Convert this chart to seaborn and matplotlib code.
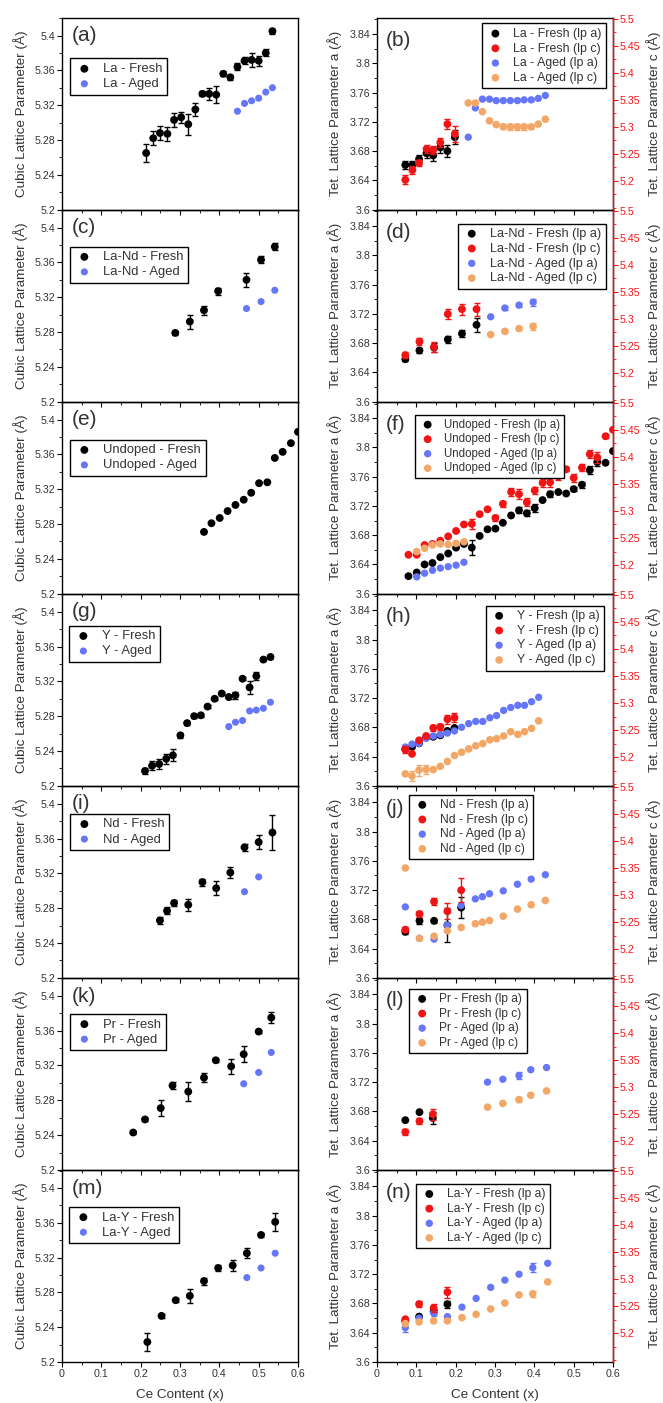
import numpy as np
import matplotlib
matplotlib.use("Agg")
import matplotlib.pyplot as plt
import seaborn as sns
from matplotlib.ticker import MultipleLocator, FixedLocator, FuncFormatter

# ---------------- DATA ----------------
# Left column: cubic lattice parameter vs Ce content
a_fx = [0.214, 0.232, 0.249, 0.268, 0.285, 0.303, 0.321, 0.339, 0.357, 0.374, 0.392, 0.410, 0.428, 0.446, 0.464, 0.482, 0.500, 0.518, 0.535]
a_fy = [5.265, 5.282, 5.288, 5.287, 5.303, 5.306, 5.298, 5.315, 5.333, 5.333, 5.332, 5.356, 5.352, 5.364, 5.371, 5.372, 5.371, 5.380, 5.405]
a_fe = [0.010, 0.008, 0.008, 0.008, 0.008, 0.006, 0.012, 0.008, 0.003, 0.007, 0.010, 0.003, 0.003, 0.004, 0.004, 0.008, 0.006, 0.004, 0.003]
a_ax = [0.446, 0.464, 0.482, 0.500, 0.518, 0.535]
a_ay = [5.313, 5.322, 5.325, 5.328, 5.335, 5.340]

c_fx = [0.288, 0.325, 0.361, 0.397, 0.469, 0.506, 0.541]
c_fy = [5.279, 5.292, 5.305, 5.327, 5.340, 5.363, 5.378]
c_fe = [0.002, 0.008, 0.005, 0.004, 0.008, 0.004, 0.004]
c_ax = [0.469, 0.506, 0.541]
c_ay = [5.307, 5.315, 5.328]

e_fx = [0.361, 0.380, 0.401, 0.421, 0.441, 0.462, 0.481, 0.501, 0.522, 0.541, 0.561, 0.582, 0.600]
e_fy = [5.271, 5.281, 5.287, 5.295, 5.302, 5.308, 5.316, 5.327, 5.328, 5.356, 5.363, 5.373, 5.386]
e_fe = [0, 0, 0, 0, 0, 0, 0, 0, 0, 0, 0, 0, 0]
e_ax = []
e_ay = []

g_fx = [0.211, 0.229, 0.247, 0.265, 0.282, 0.301, 0.318, 0.336, 0.353, 0.370, 0.388, 0.406, 0.424, 0.441, 0.459, 0.477, 0.494, 0.512, 0.530]
g_fy = [5.217, 5.223, 5.225, 5.231, 5.235, 5.258, 5.272, 5.280, 5.281, 5.291, 5.300, 5.306, 5.302, 5.304, 5.323, 5.313, 5.326, 5.345, 5.348]
g_fe = [0.004, 0.005, 0.006, 0.006, 0.007, 0.003, 0.002, 0.002, 0.002, 0.002, 0.002, 0.002, 0.002, 0.004, 0.002, 0.007, 0.005, 0.002, 0.002]
g_ax = [0.424, 0.441, 0.459, 0.477, 0.494, 0.512, 0.530]
g_ay = [5.268, 5.273, 5.275, 5.286, 5.287, 5.289, 5.296]

i_fx = [0.249, 0.267, 0.285, 0.321, 0.357, 0.392, 0.428, 0.464, 0.500, 0.535]
i_fy = [5.266, 5.277, 5.286, 5.284, 5.310, 5.303, 5.321, 5.350, 5.356, 5.367]
i_fe = [0.004, 0.004, 0.003, 0.007, 0.004, 0.008, 0.006, 0.004, 0.008, 0.020]
i_ax = [0.464, 0.500]
i_ay = [5.299, 5.316]

k_fx = [0.181, 0.211, 0.251, 0.281, 0.321, 0.361, 0.391, 0.430, 0.462, 0.500, 0.532]
k_fy = [5.243, 5.258, 5.271, 5.297, 5.290, 5.306, 5.326, 5.319, 5.333, 5.359, 5.375]
k_fe = [0.002, 0.002, 0.009, 0.004, 0.011, 0.005, 0.002, 0.009, 0.009, 0.002, 0.006]
k_ax = [0.462, 0.500, 0.532]
k_ay = [5.299, 5.312, 5.335]

m_fx = [0.217, 0.253, 0.289, 0.325, 0.361, 0.397, 0.434, 0.470, 0.506, 0.542]
m_fy = [5.223, 5.253, 5.271, 5.276, 5.293, 5.308, 5.311, 5.325, 5.346, 5.361]
m_fe = [0.010, 0.002, 0.002, 0.008, 0.004, 0.004, 0.006, 0.006, 0.002, 0.010]
m_ax = [0.470, 0.506, 0.542]
m_ay = [5.297, 5.308, 5.325]

# Right column: tetragonal lattice parameters a (left axis) and c (right axis)
b_fx = [0.072, 0.090, 0.107, 0.126, 0.143, 0.161, 0.179, 0.198]
b_fa = [3.661, 3.661, 3.669, 3.677, 3.674, 3.685, 3.680, 3.699]
b_fa_e = [0.006, 0.006, 0.006, 0.006, 0.008, 0.008, 0.008, 0.010]
b_fc = [5.202, 5.220, 5.233, 5.259, 5.257, 5.271, 5.305, 5.287]
b_fc_e = [0.008, 0.008, 0.006, 0.008, 0.008, 0.008, 0.010, 0.015]
b_ax = [0.232, 0.250, 0.268, 0.286, 0.303, 0.321, 0.339, 0.357, 0.374, 0.392, 0.410, 0.428]
b_aa = [3.699, 3.739, 3.751, 3.751, 3.749, 3.749, 3.749, 3.749, 3.750, 3.750, 3.752, 3.756]
b_aa_e = [0, 0, 0, 0, 0, 0, 0, 0, 0, 0.002, 0, 0]
b_ac = [5.344, 5.344, 5.328, 5.311, 5.304, 5.300, 5.300, 5.300, 5.300, 5.300, 5.305, 5.314]
b_ac_e = [0, 0, 0, 0, 0, 0.005, 0.006, 0.006, 0.006, 0.004, 0, 0]

d_fx = [0.072, 0.108, 0.145, 0.180, 0.216, 0.253]
d_fa = [3.658, 3.670, 3.674, 3.685, 3.693, 3.705]
d_fa_e = [0.003, 0.004, 0.006, 0.005, 0.005, 0.010]
d_fc = [5.233, 5.258, 5.248, 5.309, 5.318, 5.318]
d_fc_e = [0.005, 0.006, 0.010, 0.010, 0.010, 0.012]
d_ax = [0.289, 0.325, 0.361, 0.397]
d_aa = [3.716, 3.728, 3.732, 3.736]
d_aa_e = [0, 0.003, 0.003, 0.005]
d_ac = [5.271, 5.277, 5.282, 5.286]
d_ac_e = [0, 0.004, 0.003, 0.006]

f_fx = [0.080, 0.101, 0.121, 0.141, 0.161, 0.181, 0.201, 0.221, 0.241, 0.261, 0.281, 0.301, 0.320, 0.341, 0.361, 0.381, 0.401, 0.421, 0.440, 0.461, 0.481, 0.500, 0.521, 0.541, 0.560, 0.581, 0.600]
f_fa = [3.624, 3.629, 3.640, 3.642, 3.650, 3.655, 3.663, 3.668, 3.663, 3.679, 3.688, 3.689, 3.697, 3.707, 3.714, 3.710, 3.717, 3.728, 3.736, 3.739, 3.737, 3.743, 3.749, 3.769, 3.780, 3.779, 3.795]
f_fa_e = [0, 0, 0, 0, 0, 0, 0, 0, 0.010, 0, 0, 0, 0, 0, 0.004, 0.004, 0.005, 0, 0.004, 0, 0, 0.003, 0.004, 0.006, 0.006, 0, 0]
f_fc = [5.219, 5.219, 5.237, 5.239, 5.245, 5.253, 5.263, 5.275, 5.276, 5.294, 5.303, 5.287, 5.313, 5.335, 5.331, 5.316, 5.338, 5.352, 5.353, 5.364, 5.377, 5.361, 5.380, 5.405, 5.399, 5.438, 5.450]
f_fc_e = [0, 0, 0, 0, 0, 0, 0, 0, 0.010, 0, 0, 0.005, 0.005, 0.007, 0.009, 0.007, 0.007, 0.007, 0.008, 0.007, 0.004, 0.008, 0.006, 0.008, 0.010, 0.004, 0]
f_ax = [0.101, 0.121, 0.141, 0.161, 0.181, 0.201, 0.221]
f_aa = [3.623, 3.628, 3.632, 3.635, 3.637, 3.639, 3.643]
f_aa_e = [0, 0, 0, 0, 0, 0, 0]
f_ac = [5.225, 5.231, 5.237, 5.239, 5.238, 5.240, 5.243]
f_ac_e = [0, 0, 0, 0, 0, 0, 0]

h_fx = [0.072, 0.089, 0.107, 0.125, 0.143, 0.161, 0.179, 0.197]
h_fa = [3.650, 3.653, 3.658, 3.666, 3.667, 3.669, 3.675, 3.679]
h_fa_e = [0, 0, 0, 0, 0, 0, 0, 0]
h_fc = [5.214, 5.206, 5.231, 5.239, 5.254, 5.256, 5.270, 5.273]
h_fc_e = [0.006, 0, 0, 0, 0.005, 0.006, 0.008, 0.008]
h_ax = [0.072, 0.089, 0.107, 0.125, 0.143, 0.161, 0.179, 0.197, 0.215, 0.233, 0.251, 0.269, 0.287, 0.304, 0.322, 0.340, 0.358, 0.375, 0.393, 0.411]
h_aa = [3.653, 3.657, 3.658, 3.665, 3.668, 3.670, 3.672, 3.675, 3.680, 3.685, 3.688, 3.688, 3.693, 3.696, 3.703, 3.707, 3.710, 3.710, 3.715, 3.721]
h_aa_e = [0] * 20
h_ac = [5.169, 5.165, 5.176, 5.177, 5.177, 5.183, 5.192, 5.203, 5.209, 5.215, 5.221, 5.225, 5.232, 5.234, 5.239, 5.247, 5.242, 5.247, 5.253, 5.267]
h_ac_e = [0, 0.010, 0.010, 0.008, 0, 0, 0, 0, 0, 0, 0, 0, 0, 0, 0, 0, 0, 0, 0, 0]

j_fx = [0.072, 0.108, 0.145, 0.179, 0.214]
j_fa = [3.663, 3.678, 3.678, 3.672, 3.696]
j_fa_e = [0.003, 0.004, 0.003, 0.023, 0.014]
j_fc = [5.236, 5.265, 5.288, 5.270, 5.309]
j_fc_e = [0.005, 0.006, 0.006, 0.015, 0.022]
j_ax = [0.072, 0.108, 0.145, 0.179, 0.214, 0.250, 0.268, 0.286, 0.321, 0.357, 0.392, 0.428]
j_aa = [3.697, 3.654, 3.653, 3.672, 3.699, 3.708, 3.711, 3.715, 3.719, 3.728, 3.735, 3.741]
j_aa_e = [0] * 12
j_ac = [5.350, 5.220, 5.224, 5.234, 5.240, 5.247, 5.250, 5.253, 5.261, 5.274, 5.282, 5.290]
j_ac_e = [0] * 12

l_fx = [0.072, 0.108, 0.142]
l_fa = [3.668, 3.679, 3.671]
l_fa_e = [0, 0, 0.008]
l_fc = [5.217, 5.237, 5.250]
l_fc_e = [0.006, 0.006, 0.010]
l_ax = [0.281, 0.320, 0.361, 0.391, 0.431]
l_aa = [3.720, 3.724, 3.729, 3.737, 3.740]
l_aa_e = [0, 0, 0.005, 0, 0]
l_ac = [5.263, 5.270, 5.277, 5.285, 5.293]
l_ac_e = [0, 0, 0.005, 0, 0]

n_fx = [0.072, 0.107, 0.144, 0.179]
n_fa = [3.656, 3.662, 3.669, 3.679]
n_fa_e = [0, 0, 0.004, 0.005]
n_fc = [5.226, 5.254, 5.247, 5.276]
n_fc_e = [0.003, 0.005, 0.008, 0.010]
n_ax = [0.072, 0.107, 0.144, 0.179, 0.216, 0.252, 0.289, 0.325, 0.361, 0.396, 0.434]
n_aa = [3.647, 3.660, 3.667, 3.662, 3.675, 3.687, 3.702, 3.712, 3.720, 3.729, 3.735]
n_aa_e = [0.006, 0, 0.004, 0, 0, 0, 0, 0, 0, 0.006, 0]
n_ac = [5.218, 5.221, 5.223, 5.223, 5.229, 5.235, 5.245, 5.256, 5.271, 5.273, 5.295]
n_ac_e = [0.005, 0, 0, 0, 0, 0, 0, 0, 0, 0.006, 0]

left_names = ["La", "La-Nd", "Undoped", "Y", "Nd", "Pr", "La-Y"]
left_tags = ["(a)", "(c)", "(e)", "(g)", "(i)", "(k)", "(m)"]
right_tags = ["(b)", "(d)", "(f)", "(h)", "(j)", "(l)", "(n)"]
x_ticks = [0, 0.1, 0.2, 0.3, 0.4, 0.5, 0.6]
cubic_ticks = [5.2, 5.24, 5.28, 5.32, 5.36, 5.4]
tet_a_ticks = [3.6, 3.64, 3.68, 3.72, 3.76, 3.8, 3.84]
tet_c_ticks = [5.2, 5.25, 5.3, 5.35, 5.4, 5.45, 5.5]

left_data = [
    (a_fx, a_fy, a_fe, a_ax, a_ay),
    (c_fx, c_fy, c_fe, c_ax, c_ay),
    (e_fx, e_fy, e_fe, e_ax, e_ay),
    (g_fx, g_fy, g_fe, g_ax, g_ay),
    (i_fx, i_fy, i_fe, i_ax, i_ay),
    (k_fx, k_fy, k_fe, k_ax, k_ay),
    (m_fx, m_fy, m_fe, m_ax, m_ay),
]
right_data = [
    (b_fx, b_fa, b_fa_e, b_fc, b_fc_e, b_ax, b_aa, b_aa_e, b_ac, b_ac_e),
    (d_fx, d_fa, d_fa_e, d_fc, d_fc_e, d_ax, d_aa, d_aa_e, d_ac, d_ac_e),
    (f_fx, f_fa, f_fa_e, f_fc, f_fc_e, f_ax, f_aa, f_aa_e, f_ac, f_ac_e),
    (h_fx, h_fa, h_fa_e, h_fc, h_fc_e, h_ax, h_aa, h_aa_e, h_ac, h_ac_e),
    (j_fx, j_fa, j_fa_e, j_fc, j_fc_e, j_ax, j_aa, j_aa_e, j_ac, j_ac_e),
    (l_fx, l_fa, l_fa_e, l_fc, l_fc_e, l_ax, l_aa, l_aa_e, l_ac, l_ac_e),
    (n_fx, n_fa, n_fa_e, n_fc, n_fc_e, n_ax, n_aa, n_aa_e, n_ac, n_ac_e),
]

# ---------------- STYLE / LAYOUT ----------------
BLACK = "#000000"
RED = "#f01414"
BLUE = "#6676f8"
ORANGE = "#f2a767"
TXT = "#333333"

sns.set_theme(style="ticks")
plt.rcParams["font.family"] = ["Liberation Sans", "DejaVu Sans"]
plt.rcParams["axes.linewidth"] = 1.0
plt.rcParams["axes.edgecolor"] = "black"

W, H = 663, 1403
AX_W, AX_H = 236.0, 192.1

# legend anchors in px from axes corner (dx, dy)
left_leg = [(8, 41), (8, 37), (8, 38), (7, 32), (8, 28), (8, 36), (7, 37)]
left_leg_fs = [9.4, 9.4, 9.4, 9.4, 9.4, 9.4, 9.4]
right_leg = [("upper right", 7, 6, 8.9), ("upper right", 7, 14, 9.2),
             ("upper left", 38, 13, 8.3), ("upper right", 9, 12, 8.9),
             ("upper left", 32, 9, 8.7), ("upper left", 32, 11, 8.6),
             ("upper left", 39, 14, 8.7)]

fig = plt.figure(figsize=(W / 100, H / 100), dpi=100)
fig.patch.set_facecolor("white")
gs = fig.add_gridspec(7, 2, left=62 / W, right=613 / W, top=1 - 17.5 / H,
                      bottom=1 - 1362 / H, hspace=0, wspace=79 / 236)

fmt = FuncFormatter(lambda v, p: f"{v:g}")


def style_axis(ax, row):
    ax.patch.set_visible(False)
    ax.set_xlim(0, 0.6)
    ax.xaxis.set_major_locator(FixedLocator(x_ticks))
    ax.xaxis.set_minor_locator(MultipleLocator(0.05))
    ax.xaxis.set_major_formatter(fmt)
    ax.tick_params(axis="both", which="major", direction="out", length=3.5, width=0.8,
                   labelsize=7.7, labelcolor=TXT, pad=1.5, color="black")
    ax.tick_params(axis="both", which="minor", direction="out", length=2, width=0.6, color="black")
    ax.tick_params(axis="x", top=False, labelbottom=(row == 6))
    ax.tick_params(axis="y", right=False)
    for s in ax.spines.values():
        s.set_visible(True)
        s.set_linewidth(1.0)
        s.set_color("black")
    if row == 6:
        ax.set_xlabel("Ce Content (x)", fontsize=9.7, color=TXT, labelpad=7)
    else:
        ax.set_xlabel("")


def errs(ax, x, y, e, color):
    x = np.asarray(x, float); y = np.asarray(y, float); e = np.asarray(e, float)
    m = e > 0
    if m.any():
        ax.errorbar(x[m], y[m], yerr=e[m], fmt="none", ecolor=color, elinewidth=1.0,
                    capsize=2.0, capthick=1.0, zorder=2)


def make_legend(ax, handles, labels, loc, anchor, fs):
    leg = ax.legend(handles, labels, loc=loc, bbox_to_anchor=anchor, borderaxespad=0,
                    frameon=True, fancybox=False, edgecolor="black", framealpha=1,
                    fontsize=fs, handletextpad=0.7, handlelength=1.5, borderpad=0.35,
                    labelspacing=0.22, scatterpoints=1)
    leg.get_frame().set_linewidth(1.0)
    for t in leg.get_texts():
        t.set_color(TXT)
    return leg


for r in range(7):
    # ---------- left column ----------
    ax = fig.add_subplot(gs[r, 0])
    fx, fy, fe, axx, ay = left_data[r]
    name = left_names[r]
    errs(ax, fx, fy, fe, BLACK)
    sns.scatterplot(x=fx, y=fy, color=BLACK, s=32, edgecolor="none", linewidth=0,
                    label=f"{name} - Fresh", ax=ax, zorder=3)
    if len(axx):
        sns.scatterplot(x=axx, y=ay, color=BLUE, s=26, edgecolor="none", linewidth=0,
                        label=f"{name} - Aged", ax=ax, zorder=3)
    else:
        ax.scatter([], [], color=BLUE, s=26, edgecolor="none", label=f"{name} - Aged")
    hl, ll = ax.get_legend_handles_labels()
    ax.set_ylim(5.2, 5.4207)
    ax.yaxis.set_major_locator(FixedLocator(cubic_ticks))
    ax.yaxis.set_minor_locator(MultipleLocator(0.02))
    ax.yaxis.set_major_formatter(fmt)
    style_axis(ax, r)
    ax.set_ylabel("Cubic Lattice Parameter (Å)", fontsize=9.7, color=TXT)
    ax.yaxis.set_label_coords(-0.142, 0.5)
    dx, dy = left_leg[r]
    make_legend(ax, hl, ll, "upper left", (dx / AX_W, 1 - dy / AX_H), left_leg_fs[r])
    ax.text(0.042, 0.955, left_tags[r], transform=ax.transAxes, ha="left", va="top",
            fontsize=15, color=TXT)

    # ---------- right column ----------
    axr = fig.add_subplot(gs[r, 1])
    ax2 = axr.twinx()
    (fx, fa, fa_e, fc, fc_e, axx, aa, aa_e, ac, ac_e) = right_data[r]
    errs(axr, fx, fa, fa_e, BLACK)
    sns.scatterplot(x=fx, y=fa, color=BLACK, s=32, edgecolor="none", linewidth=0,
                    label=f"{name} - Fresh (lp a)", ax=axr, zorder=3)
    sns.scatterplot(x=axx, y=aa, color=BLUE, s=28, edgecolor="none", linewidth=0,
                    label=f"{name} - Aged (lp a)", ax=axr, zorder=3)
    errs(axr, axx, aa, aa_e, BLUE)
    errs(ax2, fx, fc, fc_e, RED)
    sns.scatterplot(x=fx, y=fc, color=RED, s=32, edgecolor="none", linewidth=0,
                    label=f"{name} - Fresh (lp c)", ax=ax2, zorder=3)
    errs(ax2, axx, ac, ac_e, ORANGE)
    sns.scatterplot(x=axx, y=ac, color=ORANGE, s=30, edgecolor="none", linewidth=0,
                    label=f"{name} - Aged (lp c)", ax=ax2, zorder=3)
    h1, l1 = axr.get_legend_handles_labels()
    h2, l2 = ax2.get_legend_handles_labels()
    if axr.get_legend() is not None:
        axr.get_legend().remove()
    handles = [h1[0], h2[0], h1[1], h2[1]]
    labels = [l1[0], l2[0], l1[1], l2[1]]

    axr.set_ylim(3.6, 3.8626)
    axr.yaxis.set_major_locator(FixedLocator(tet_a_ticks))
    axr.yaxis.set_major_formatter(fmt)
    axr.yaxis.set_minor_locator(MultipleLocator(0.02))
    style_axis(axr, r)
    axr.set_ylabel("Tet. Lattice Parameter a (Å)", fontsize=9.7, color=TXT)
    axr.yaxis.set_label_coords(-0.148, 0.5)

    ax2.set_xlim(0, 0.6)
    ax2.set_ylim(5.147, 5.502)
    ax2.yaxis.set_major_locator(FixedLocator(tet_c_ticks))
    ax2.yaxis.set_minor_locator(MultipleLocator(0.025))
    ax2.yaxis.set_major_formatter(fmt)
    ax2.tick_params(axis="y", which="major", direction="out", length=3.5, width=0.8,
                    labelsize=7.7, colors=RED, pad=1.5)
    ax2.tick_params(axis="y", which="minor", direction="out", length=2, width=0.6, colors=RED)
    ax2.spines["right"].set_color(RED)
    ax2.spines["right"].set_linewidth(1.0)
    for s in ("top", "left", "bottom"):
        ax2.spines[s].set_visible(False)
    ax2.set_ylabel("Tet. Lattice Parameter c (Å)", fontsize=9.7, color=TXT)
    ax2.yaxis.set_label_coords(1.142, 0.5)

    loc, dx, dy, fs = right_leg[r]
    if loc == "upper right":
        anchor = (1 - dx / AX_W, 1 - dy / AX_H)
    else:
        anchor = (dx / AX_W, 1 - dy / AX_H)
    make_legend(ax2, handles, labels, loc, anchor, fs)
    axr.text(0.035, 0.93, right_tags[r], transform=axr.transAxes, ha="left", va="top",
             fontsize=15, color=TXT)

fig.savefig("out.png", dpi=100, facecolor="white")
